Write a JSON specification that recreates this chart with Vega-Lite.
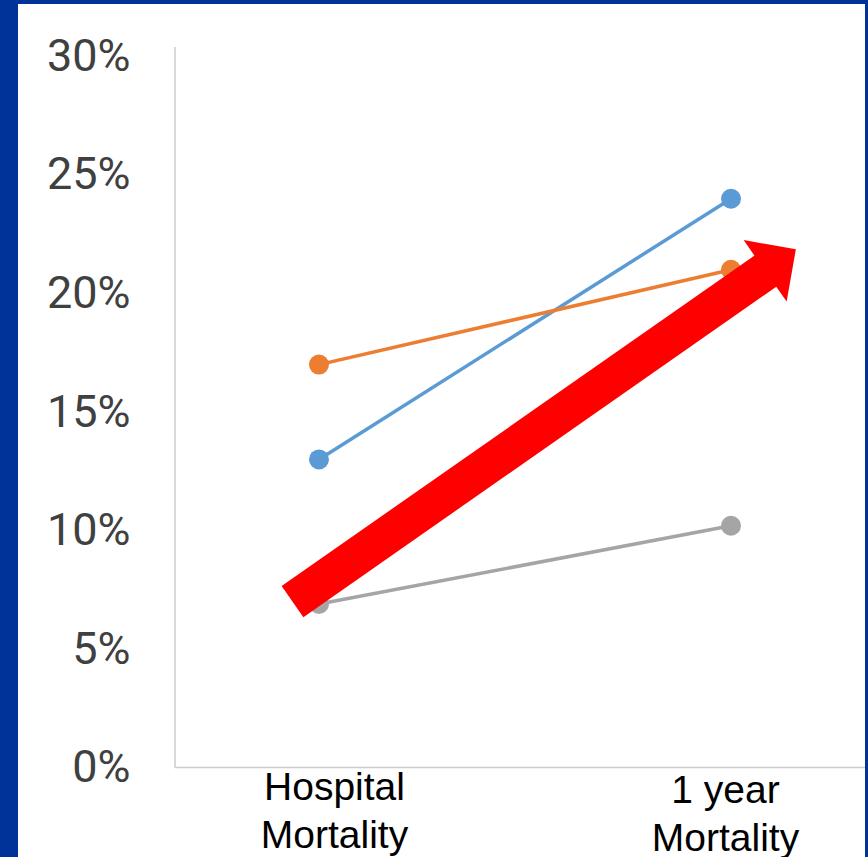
{
  "$schema": "https://vega.github.io/schema/vega-lite/v6.json",
  "width": 847,
  "height": 853,
  "autosize": {"type": "none"},
  "padding": {"left": 18, "top": 4, "right": 3, "bottom": 0},
  "background": "#003399",
  "config": {"view": {"fill": "#ffffff", "stroke": null}},
  "datasets": {
    "mortality": [
      {"series": "Series 1", "measure": "Hospital Mortality", "value": 0.13},
      {"series": "Series 1", "measure": "1 year Mortality", "value": 0.24},
      {"series": "Series 2", "measure": "Hospital Mortality", "value": 0.17},
      {"series": "Series 2", "measure": "1 year Mortality", "value": 0.21},
      {"series": "Series 3", "measure": "Hospital Mortality", "value": 0.069},
      {"series": "Series 3", "measure": "1 year Mortality", "value": 0.102}
    ],
    "axisLines": [
      {"part": "y axis", "pos": -0.3495, "pos2": -0.3495, "value": 0, "value2": 0.304},
      {"part": "x axis", "pos": -0.3495, "pos2": 1.3252, "value": 0, "value2": 0}
    ],
    "arrow": [
      {"part": "shaft", "pos": -0.0643, "pos2": 1.0922, "value": 0.07, "value2": 0.2105}
    ],
    "arrowHead": [
      {"part": "head", "pos": 1.1201, "value": 0.2141}
    ]
  },
  "encoding": {
    "y": {
      "field": "value",
      "type": "quantitative",
      "scale": {"domain": [-0.03776, 0.32215], "nice": false, "zero": false},
      "axis": {
        "orient": "left",
        "offset": -157,
        "values": [0, 0.05, 0.1, 0.15, 0.2, 0.25, 0.3],
        "format": ".0%",
        "domain": false,
        "ticks": false,
        "tickSize": 0,
        "grid": false,
        "title": null,
        "labelPadding": 45,
        "labelFont": "Roboto",
        "labelFontSize": 45,
        "labelColor": "#404040",
        "labelBound": false,
        "labelOverlap": false
      }
    }
  },
  "layer": [
    {
      "data": {"name": "axisLines"},
      "mark": {"type": "rule", "color": "#cccccc", "strokeWidth": 1.5},
      "encoding": {
        "x": {"field": "pos", "type": "quantitative", "scale": {"domain": [-0.73058, 1.32524], "nice": false, "zero": false}, "axis": null},
        "x2": {"field": "pos2"},
        "y2": {"field": "value2"}
      }
    },
    {
      "data": {"name": "mortality"},
      "encoding": {
        "x": {
          "field": "measure",
          "type": "nominal",
          "sort": ["Hospital Mortality", "1 year Mortality"],
          "scale": {"type": "point", "padding": 0.52791, "align": 0.69195},
          "axis": {
            "orient": "bottom",
            "offset": -89.5,
            "domain": false,
            "ticks": false,
            "grid": false,
            "title": null,
            "labelAngle": 0,
            "labelExpr": "[slice(datum.label, 0, lastindexof(datum.label, ' ')), slice(datum.label, lastindexof(datum.label, ' ') + 1)]",
            "labelFont": "Liberation Sans",
            "labelFontSize": 39,
            "labelColor": "#000000",
            "labelBaseline": "top",
            "labelLineHeight": 48,
            "labelPadding": {"condition": {"test": "datum.value == 'Hospital Mortality'", "value": 1}, "value": 4},
            "labelOffset": {"condition": {"test": "datum.value == 'Hospital Mortality'", "value": 15}, "value": -6},
            "labelBound": false,
            "labelOverlap": false,
            "labelFlush": false
          }
        },
        "color": {
          "field": "series",
          "type": "nominal",
          "scale": {"domain": ["Series 1", "Series 2", "Series 3"], "range": ["#5B9BD5", "#ED7D31", "#A5A5A5"]},
          "legend": null
        }
      },
      "layer": [
        {"mark": {"type": "line", "strokeWidth": 3.5}},
        {"mark": {"type": "point", "filled": true, "opacity": 1, "size": 400}}
      ]
    },
    {
      "data": {"name": "arrow"},
      "mark": {"type": "rule", "color": "#ff0000", "strokeWidth": 38, "strokeCap": "butt"},
      "encoding": {
        "x": {"field": "pos", "type": "quantitative", "scale": {"domain": [-0.73058, 1.32524], "nice": false, "zero": false}, "axis": null},
        "x2": {"field": "pos2"},
        "y2": {"field": "value2"}
      }
    },
    {
      "data": {"name": "arrowHead"},
      "mark": {
        "type": "point",
        "shape": "M0,-0.5L1,0.5L-1,0.5Z",
        "filled": true,
        "color": "#ff0000",
        "opacity": 1,
        "size": 5625,
        "angle": 55
      },
      "encoding": {
        "x": {"field": "pos", "type": "quantitative", "scale": {"domain": [-0.73058, 1.32524], "nice": false, "zero": false}, "axis": null}
      }
    }
  ],
  "resolve": {"scale": {"x": "independent"}, "axis": {"x": "independent"}}
}
